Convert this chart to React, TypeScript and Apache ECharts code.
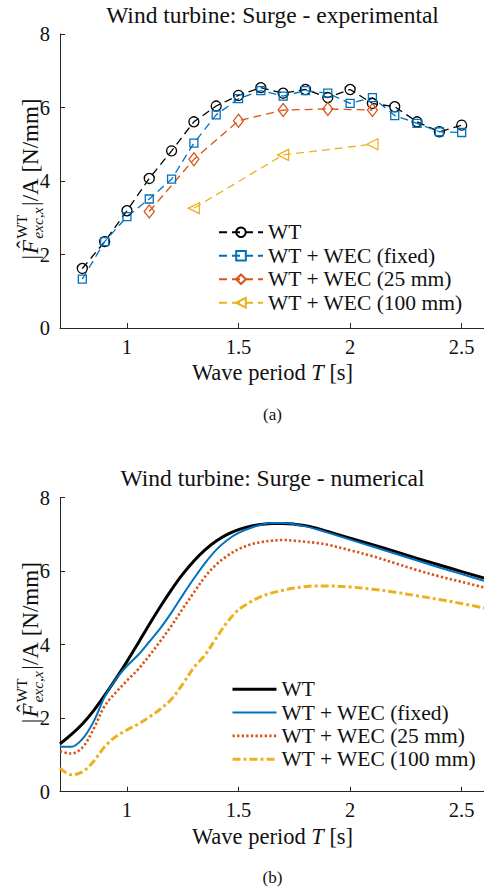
import React, { useEffect, useRef } from 'react';
import * as echarts from 'echarts';

// ---------------- data ----------------
const seriesNames = ['WT', 'WT + WEC (fixed)', 'WT + WEC (25 mm)', 'WT + WEC (100 mm)'];
const xTicks = [1, 1.5, 2, 2.5];
const yTicks = [0, 2, 4, 6, 8];

// experimental (a)
const expPeriods = [0.8, 0.9, 1.0, 1.1, 1.2, 1.3, 1.4, 1.5, 1.6, 1.7, 1.8, 1.9, 2.0, 2.1, 2.2, 2.3, 2.4, 2.5];
const expWT = [1.62, 2.35, 3.19, 4.07, 4.82, 5.61, 6.04, 6.33, 6.54, 6.39, 6.49, 6.27, 6.49, 6.11, 6.02, 5.61, 5.34, 5.52];
const expFixed = [1.33, 2.35, 3.03, 3.51, 4.05, 5.03, 5.80, 6.24, 6.46, 6.31, 6.46, 6.39, 6.11, 6.27, 5.78, 5.57, 5.34, 5.32];
const exp25Periods = [1.1, 1.3, 1.5, 1.7, 1.9, 2.1];
const exp25 = [3.17, 4.59, 5.64, 5.93, 5.96, 5.93];
const exp100Periods = [1.3, 1.7, 2.1];
const exp100 = [3.26, 4.71, 5.0];

// numerical (b)
const numPeriods = [0.7, 0.75, 0.8, 0.85, 0.9, 0.95, 1.0, 1.05, 1.1, 1.15, 1.2, 1.25, 1.3, 1.35, 1.4, 1.45, 1.5, 1.55, 1.6, 1.65, 1.7, 1.75, 1.8, 1.85, 1.9, 2.0, 2.1, 2.2, 2.3, 2.4, 2.5, 2.6];
const numWT = [1.30, 1.55, 1.84, 2.20, 2.62, 3.07, 3.54, 4.04, 4.55, 5.04, 5.50, 5.92, 6.28, 6.58, 6.82, 7.00, 7.13, 7.22, 7.27, 7.30, 7.30, 7.28, 7.24, 7.17, 7.08, 6.90, 6.72, 6.54, 6.35, 6.17, 5.99, 5.81];
const numFixed = [1.22, 1.22, 1.43, 1.90, 2.58, 3.06, 3.42, 3.72, 4.08, 4.45, 4.88, 5.35, 5.80, 6.22, 6.58, 6.85, 7.04, 7.17, 7.26, 7.31, 7.31, 7.28, 7.22, 7.14, 7.05, 6.86, 6.67, 6.48, 6.29, 6.10, 5.92, 5.74];
const num25 = [1.10, 1.04, 1.20, 1.70, 2.33, 2.70, 3.02, 3.33, 3.70, 4.10, 4.52, 4.98, 5.42, 5.85, 6.18, 6.42, 6.60, 6.72, 6.79, 6.83, 6.85, 6.83, 6.80, 6.77, 6.72, 6.57, 6.41, 6.22, 6.03, 5.86, 5.71, 5.56];
const num100 = [0.64, 0.46, 0.54, 0.82, 1.22, 1.50, 1.68, 1.84, 2.03, 2.25, 2.52, 2.93, 3.38, 3.72, 4.18, 4.62, 4.95, 5.15, 5.31, 5.41, 5.48, 5.54, 5.58, 5.60, 5.60, 5.57, 5.51, 5.43, 5.33, 5.23, 5.12, 5.00];

// ---------------- styling ----------------
const FF = "'Liberation Serif', 'Times New Roman', serif";
const FF_CANVAS = "'Liberation Serif', serif";
const AX = '#262626';
const TXT = '#111111';
const C_BLACK = '#000000';
const C_BLUE = '#0072BD';
const C_RED = '#D95319';
const C_YEL = '#EDB120';

const PLOT_LEFT = 60;
const PLOT_W = 425.6;
const PLOT_H = 294;

function measure(text: string, font: string): number {
  const c = document.createElement('canvas').getContext('2d');
  if (!c) return text.length * 10;
  c.font = font;
  return c.measureText(text).width;
}

function yLabel(cx: number, cy: number) {
  const main = 23;
  const scr = 15.5;
  const fMain = `${main}px ${FF_CANVAS}`;
  const fMainI = `italic ${main}px ${FF_CANVAS}`;
  const fScr = `${scr}px ${FF_CANVAS}`;
  const fScrI = `italic ${scr}px ${FF_CANVAS}`;
  const wBar = measure('|', fMain);
  const wF = measure('F', fMainI);
  const wWT = measure('WT', fScr);
  const wSub = measure('exc,x', fScrI);
  const wBarSlash = measure('|/', fMain);
  const wA = measure('A', fMain);
  const wRest = measure(' [N/mm]', fMain);
  const x1 = wBar + 1;
  const x2 = x1 + wF + 1;
  const x3 = x2 + Math.max(wWT, wSub) + 1.5;
  const x4 = x3 + wBarSlash;
  const x5 = x4 + wA;
  const total = x5 + wRest;
  const o = -total / 2;
  const t = (x: number, y: number, text: string, size: number, italic = false) => ({
    type: 'text',
    x: o + x,
    y,
    style: {
      text,
      fontFamily: FF,
      fontSize: size,
      fontStyle: italic ? 'italic' : 'normal',
      fill: TXT,
      align: 'left',
      verticalAlign: 'middle',
    },
  });
  return {
    type: 'group',
    x: cx,
    y: cy,
    rotation: Math.PI / 2,
    children: [
      t(0, 0, '|', main),
      t(x1, 0, 'F', main, true),
      t(x1 + wF * 0.38, -5, 'ˆ', main),
      t(x2, -8.5, 'WT', scr),
      t(x2, 7, 'exc,x', scr, true),
      t(x3, 0, '|/', main),
      t(x4, 0, 'A', main),
      t(x5, 0, ' [N/mm]', main),
    ],
  };
}

function centerText(x: number, y: number, text: string, size: number) {
  return {
    type: 'text',
    x,
    y,
    style: { text, fontFamily: FF, fontSize: size, fill: TXT, align: 'center', verticalAlign: 'middle' },
  };
}

function xName(x: number, y: number) {
  return {
    type: 'text',
    x,
    y,
    style: {
      text: '{n|Wave period }{i|T}{n| [s]}',
      align: 'center',
      verticalAlign: 'middle',
      rich: {
        n: { fontFamily: FF, fontSize: 22.5, fill: TXT },
        i: { fontFamily: FF, fontSize: 22.5, fontStyle: 'italic', fill: TXT },
      },
    },
  };
}

function axes(top: number) {
  return {
    grid: { left: PLOT_LEFT, top, width: PLOT_W, height: PLOT_H, containLabel: false },
    xAxis: {
      type: 'value',
      min: 0.7,
      max: 2.6,
      axisLine: { show: true, onZero: false, lineStyle: { color: AX, width: 1 } },
      axisTick: { show: true, inside: true, length: 5, customValues: xTicks, lineStyle: { color: AX, width: 1 } },
      axisLabel: {
        customValues: xTicks,
        margin: 8,
        fontFamily: FF,
        fontSize: 20.5,
        color: TXT,
        formatter: (v: number) => String(v),
      },
      splitLine: { show: false },
    },
    yAxis: {
      type: 'value',
      min: 0,
      max: 8,
      interval: 2,
      axisLine: { show: true, onZero: false, lineStyle: { color: AX, width: 1 } },
      axisTick: { show: true, inside: true, length: 5, lineStyle: { color: AX, width: 1 } },
      axisLabel: {
        margin: 10,
        fontFamily: FF,
        fontSize: 20.5,
        color: TXT,
        formatter: (v: number) => (yTicks.includes(v) ? String(v) : ''),
      },
      splitLine: { show: false },
    },
  };
}

const pairs = (xs: number[], ys: number[]) => xs.map((x, i) => [x, ys[i]]);

const legendBase = {
  orient: 'vertical',
  padding: 0,
  itemWidth: 44,
  itemHeight: 12,
  itemGap: 0,
  selectedMode: false,
  data: seriesNames,
  textStyle: { fontFamily: FF, fontSize: 21.5, color: TXT, lineHeight: 23.5 },
};

function topOption() {
  const top = 34;
  const dash = [8, 5];
  const mk = (name: string, xs: number[], ys: number[], color: string, symbol: string, size: any, rotate = 0) => ({
    name,
    type: 'line',
    data: pairs(xs, ys),
    symbol,
    symbolSize: size,
    symbolRotate: rotate,
    showSymbol: true,
    color,
    lineStyle: { color, width: 1.3, type: dash },
    itemStyle: { color: 'rgba(255,255,255,0)', borderColor: color, borderWidth: 1.3 },
    z: 2,
  });
  return {
    animation: false,
    backgroundColor: '#fff',
    ...axes(top),
    legend: { ...legendBase, left: 218, top: 220.5 },
    series: [
      mk(seriesNames[0], expPeriods, expWT, C_BLACK, 'circle', 10),
      mk(seriesNames[1], expPeriods, expFixed, C_BLUE, 'rect', 8),
      mk(seriesNames[2], exp25Periods, exp25, C_RED, 'diamond', [10, 13]),
      mk(seriesNames[3], exp100Periods, exp100, C_YEL, 'triangle', [11, 11], 90),
    ],
    graphic: {
      elements: [
        centerText(272.5, 14.5, 'Wind turbine: Surge - experimental', 23.5),
        xName(272.5, 372),
        centerText(272.5, 414, '(a)', 17),
        yLabel(30, top + PLOT_H / 2 - 2),
      ],
    },
  };
}

function bottomOption() {
  const top = 53.7;
  const mk = (name: string, ys: number[], color: string, width: number, type: any) => ({
    name,
    type: 'line',
    data: pairs(numPeriods, ys),
    symbol: 'none',
    showSymbol: false,
    smooth: 0.35,
    color,
    lineStyle: { color, width, type, cap: 'butt' },
  });
  return {
    animation: false,
    backgroundColor: '#fff',
    ...axes(top),
    legend: {
      ...legendBase,
      left: 231,
      top: 233.6,
      textStyle: { ...legendBase.textStyle, lineHeight: 23.3 },
      itemStyle: { color: 'rgba(0,0,0,0)', borderWidth: 0, opacity: 0 },
      lineStyle: { width: 'inherit', type: 'inherit' },
    },
    series: [
      mk(seriesNames[0], numWT, C_BLACK, 3, 'solid'),
      mk(seriesNames[1], numFixed, C_BLUE, 2, 'solid'),
      mk(seriesNames[2], num25, C_RED, 2.6, [2.3, 2.3]),
      mk(seriesNames[3], num100, C_YEL, 3, [8, 3, 3, 3]),
    ],
    graphic: {
      elements: [
        centerText(272.5, 34, 'Wind turbine: Surge - numerical', 23.5),
        xName(272.5, 392),
        centerText(272.5, 433, '(b)', 17),
        yLabel(30, top + PLOT_H / 2 - 2),
      ],
    },
  };
}

function Chart({ option, top, height }: { option: any; top: number; height: number }) {
  const ref = useRef<HTMLDivElement>(null);
  useEffect(() => {
    if (!ref.current) return;
    const chart = echarts.init(ref.current, undefined, { renderer: 'svg' });
    chart.setOption(option);
    return () => chart.dispose();
  }, [option]);
  return <div ref={ref} style={{ position: 'absolute', left: 0, top, width: 484, height }} />;
}

const TOP_OPT = topOption();
const BOTTOM_OPT = bottomOption();

export default function App() {
  return (
    <div style={{ position: 'absolute', left: 0, top: 0, width: 484, height: 889, background: '#fff', overflow: 'hidden' }}>
      <Chart option={TOP_OPT} top={0} height={444} />
      <Chart option={BOTTOM_OPT} top={444} height={445} />
    </div>
  );
}
